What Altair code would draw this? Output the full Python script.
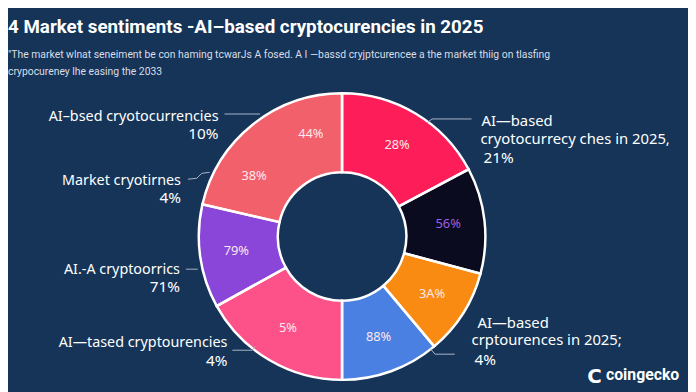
import altair as alt
import pandas as pd

# ---- data ----
slice_ids = ["a", "b", "c", "d", "e", "f", "g1", "g2"]
slice_groups = ["a", "b", "c", "d", "e", "f", "g", "g"]
slice_values = [62, 43, 35, 40, 61, 42, 43, 34]
slice_labels = ["28%", "56%", "3A%", "88%", "5%", "79%", "38%", "44%"]
slice_colors = ["#fd1d58", "#0b0b1f", "#f98b12", "#4b80e3", "#fd5189", "#8a46d8", "#f2606c", "#f2606c"]

title_text = "4 Market sentiments -AI\u2013based cryptocurencies in 2025"
subtitle_lines = [
    "\"The market wlnat seneiment be con haming tcwarJs A fosed. A I \u2014bassd cryjptcurencee a the market thiig on tlasfing",
    "crypocureney lhe easing the 2033",
]
left_names = ["AI\u2013bsed cryotocurrencies", "Market cryotirnes", "AI.-A cryptoorrics", "AI\u2014tased cryptourencies"]
left_pcts = ["10%", "4%", "71%", "4%"]
right_top = ["AI\u2014based", "cryotocurrecy ches in 2025,", "21%"]
right_bot = ["AI\u2014based", "crptourences in 2025;", "4%"]
logo_text = "coingecko"

df = pd.DataFrame({
    "id": slice_ids, "group": slice_groups, "value": slice_values,
    "label": slice_labels, "order": list(range(len(slice_ids))),
})
outline = df.groupby("group", sort=False, as_index=False).agg(value=("value", "sum"), order=("order", "min"))

BG = "#153457"
O = 8  # page margin offset
CX, CY = 346 - O, 237 - O
TFONT = "Roboto, Liberation Sans, sans-serif"
LFONT = "Noto Sans, Liberation Sans, sans-serif"

theta = alt.Theta("value:Q", stack=True, scale=alt.Scale(domain=[0, 360]))
cscale = alt.Scale(domain=slice_ids, range=slice_colors)

fill = alt.Chart(df).mark_arc(innerRadius=65, outerRadius=145, strokeWidth=1).encode(
    theta=theta,
    order=alt.Order("order:Q"),
    color=alt.Color("id:N", scale=cscale, legend=None),
    stroke=alt.Stroke("id:N", scale=cscale, legend=None),
    x=alt.value(CX), y=alt.value(CY),
)
ring = alt.Chart(outline).mark_arc(innerRadius=65, outerRadius=145, fillOpacity=0,
                                   stroke="white", strokeWidth=2.5).encode(
    theta=theta, order=alt.Order("order:Q"), x=alt.value(CX), y=alt.value(CY),
)
inner_labels = alt.Chart(df).mark_text(radius=108, fontSize=13, font=LFONT).encode(
    theta=theta, order=alt.Order("order:Q"),
    text="label:N",
    color=alt.condition(alt.datum.label == "56%", alt.value("#9b5fe6"), alt.value("#fbe9ee")),
    x=alt.value(CX), y=alt.value(CY),
)

layers = [fill, ring, inner_labels]

def txt(s, x, y, size, align="left", color="white", weight="normal", font=LFONT):
    return alt.Chart(pd.DataFrame({"t": [s]})).mark_text(
        align=align, baseline="alphabetic", fontSize=size, color=color,
        fontWeight=weight, font=font,
    ).encode(text="t:N", x=alt.value(x - O), y=alt.value(y - O))

def seg(x1, y1, x2, y2):
    return alt.Chart(pd.DataFrame({"k": [0]})).mark_rule(color="#a9b5c8", strokeWidth=1).encode(
        x=alt.value(x1 - O), x2=alt.value(x2 - O), y=alt.value(y1 - O), y2=alt.value(y2 - O))

layers.append(txt(title_text, 8, 31, 19, weight="bold", font=TFONT))
layers.append(txt(subtitle_lines[0], 8, 56, 10.5, color="#d8dee8", font=TFONT))
layers.append(txt(subtitle_lines[1], 8, 74, 10.5, color="#d8dee8", font=TFONT))

# left labels
lpos = [(221, 120, 138), (183, 185, 203), (182, 275, 293), (230, 349, 368)]
for name, pct, (x, y1, y2) in zip(left_names, left_pcts, lpos):
    layers.append(txt(name, x, y1, 14.5, align="right"))
    layers.append(txt(pct, x, y2, 15.5, align="right"))

for i, (s, y) in enumerate(zip(right_top, [125, 143, 163])):
    layers.append(txt(s, [487, 486, 489][i], y, 15.5 if i == 2 else 15))
for i, (s, y) in enumerate(zip(right_bot, [330, 347, 367])):
    layers.append(txt(s, [483, 477, 480][i], y, 15.5 if i == 2 else 15))

# leader lines
layers += [
    seg(227, 113, 263, 113),
    seg(190, 179, 199, 178), seg(199, 178, 204, 173), seg(204, 173, 212, 172),
    seg(188, 270, 200, 270),
    seg(235, 352, 255, 352), seg(255, 352, 258, 348),
    seg(432, 122, 437, 118), seg(437, 118, 477, 118),
    seg(435, 350, 440, 356), seg(440, 356, 460, 356),
]

# logo
layers.append(txt("C", 594, 385, 20, weight="bold", font="DejaVu Sans, sans-serif"))
layers.append(txt(logo_text, 613, 382, 16, weight="bold", font=TFONT))

chart = alt.layer(*layers).properties(
    width=688, height=384, background=BG, padding=0,
    autosize=alt.AutoSizeParams(type="fit", contains="padding"),
).configure_view(stroke=None)

chart.save("out.html", embed_options={"renderer": "svg", "actions": False})
